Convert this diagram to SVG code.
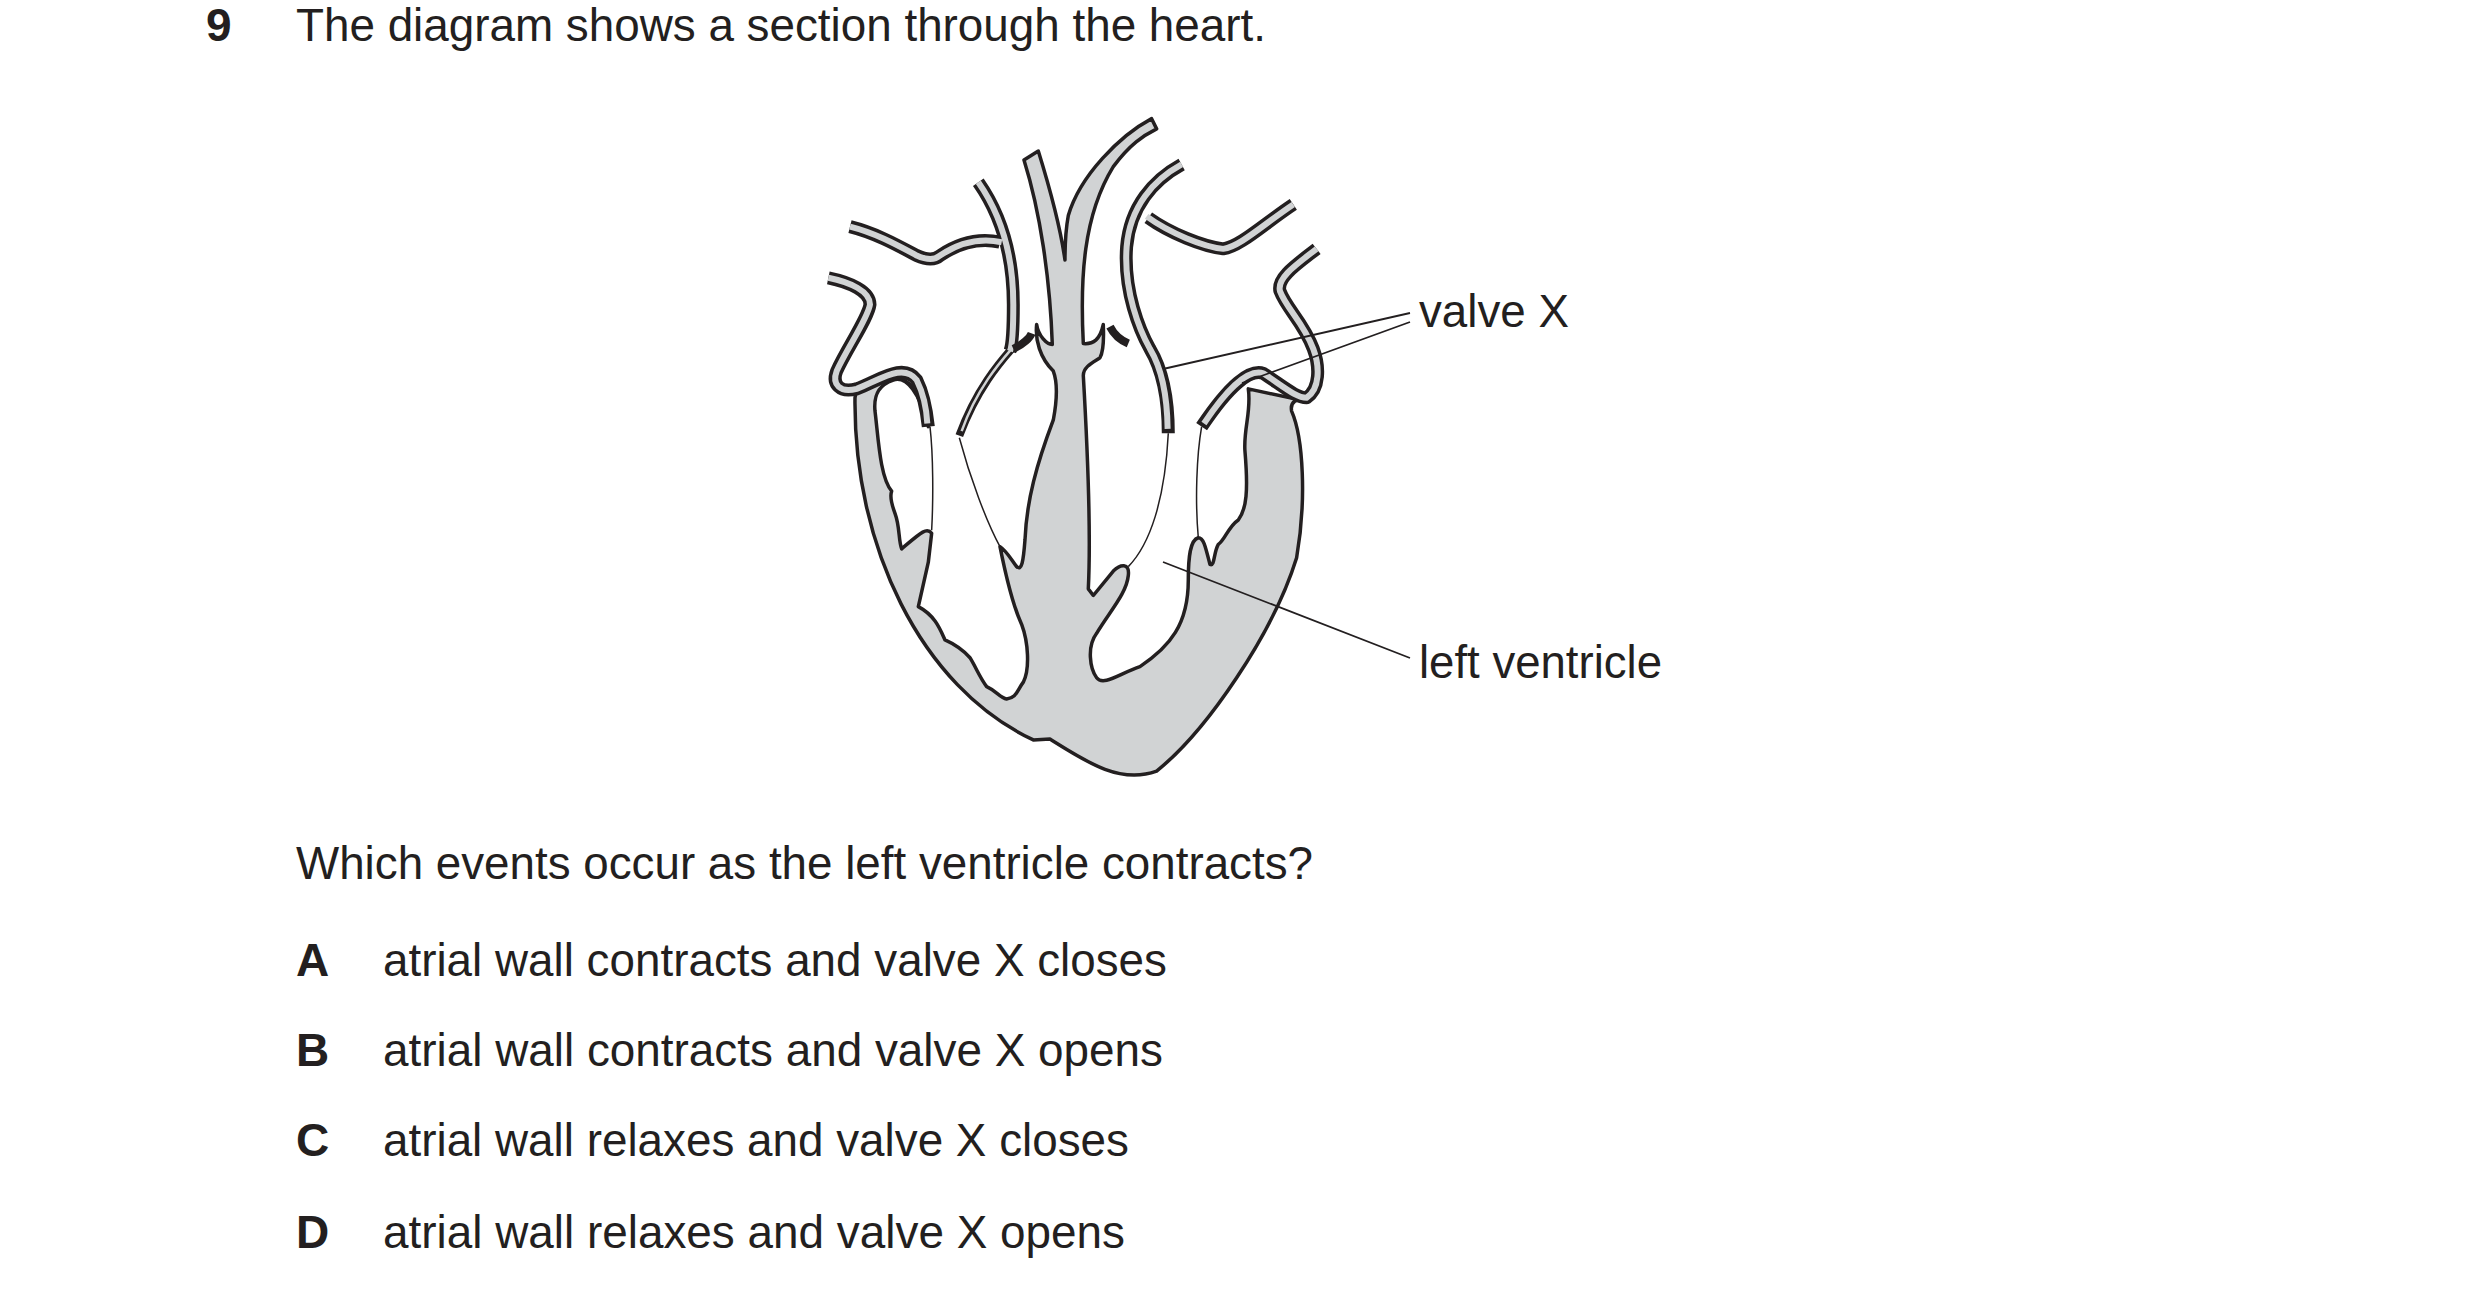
<svg xmlns="http://www.w3.org/2000/svg" width="2480" height="1296" viewBox="0 0 2480 1296">
<style>
text{font-family:"Liberation Sans",Arial,sans-serif;font-size:46px;fill:#231f20}
.b{font-weight:bold}
.body{fill:#d1d3d4;stroke:#231f20;stroke-width:3.5;stroke-linejoin:round}
.to{fill:none;stroke:#231f20;stroke-width:13;vector-effect:non-scaling-stroke;stroke-linejoin:round}
.ti{fill:none;stroke:#d1d3d4;stroke-width:6;vector-effect:non-scaling-stroke;stroke-linejoin:round}
.tto{fill:none;stroke:#231f20;stroke-width:8;vector-effect:non-scaling-stroke}
.tti{fill:none;stroke:#d1d3d4;stroke-width:2.5;vector-effect:non-scaling-stroke}
.cord{fill:none;stroke:#231f20;stroke-width:1.5;vector-effect:non-scaling-stroke}
.lbl{stroke:#231f20;stroke-width:1.8;fill:none}
.s{vector-effect:non-scaling-stroke}
</style>
<text class="b" x="206" y="41">9</text>
<text x="296" y="41" textLength="970" lengthAdjust="spacingAndGlyphs">The diagram shows a section through the heart.</text>
<g id="heart" transform="translate(820,100) scale(0.3333,0.4444)">
<path class="body s" d="M105,670 C100,1000 300,1320 640,1440 L690,1438 C800,1490 900,1540 1010,1510 C1160,1420 1360,1200 1430,1030 C1460,900 1450,760 1415,700 C1410,680 1430,668 1460,678 L1285,650 C1295,700 1270,740 1275,790 C1285,880 1280,920 1255,945 C1225,960 1215,990 1195,1000 C1180,1020 1185,1050 1170,1045 C1155,1000 1150,985 1135,985 C1110,990 1105,1030 1105,1080 C1105,1180 1050,1230 960,1275 C900,1290 850,1320 830,1300 C810,1280 800,1230 830,1200 C870,1150 920,1110 925,1070 C930,1040 900,1045 880,1060 L820,1115 L805,1100 C815,950 800,750 790,620 C790,600 820,590 840,580 C855,560 850,520 850,505 C840,540 820,550 790,548 C780,400 790,260 880,150 C930,100 970,80 1010,65 L995,42 C900,80 780,170 745,260 C735,300 735,330 735,360 C720,280 690,200 655,115 L612,135 C660,250 690,400 697,550 C680,550 655,530 650,505 C645,540 660,580 700,610 C715,640 710,680 700,720 C650,820 620,900 615,990 C610,1040 605,1060 590,1050 C570,1030 560,1015 540,1005 C560,1080 580,1140 605,1180 C625,1220 630,1280 610,1310 C590,1330 590,1345 560,1348 C540,1345 530,1330 500,1320 C480,1300 470,1280 450,1255 C420,1230 390,1220 375,1215 C360,1190 345,1160 295,1140 L325,1040 L335,975 C320,960 300,975 245,1010 C235,990 240,960 225,930 C215,910 210,890 215,880 C180,850 175,760 165,700 C160,660 180,640 220,630 C260,620 300,660 325,735 L310,700 C300,640 230,605 160,625 C130,635 110,645 105,670 Z"/>
<g id="vessels">
<path class="to" d="M25,400 C90,410 150,430 150,460 C145,490 80,560 50,610 C35,640 60,660 110,650 C180,630 250,590 290,630 C310,660 320,700 325,735"/>
<path class="ti" d="M25,400 C90,410 150,430 150,460 C145,490 80,560 50,610 C35,640 60,660 110,650 C180,630 250,590 290,630 C310,660 320,700 322,728"/>
<path class="to" d="M90,285 C170,300 240,330 290,350 C320,360 345,360 360,350 C420,320 480,310 540,320"/>
<path class="to" d="M475,185 C545,260 580,350 580,460 C580,520 575,555 570,565"/>
<path class="tto" d="M575,560 C540,590 470,650 418,755"/>
<path class="ti" d="M90,285 C170,300 240,330 290,350 C320,360 345,360 360,350 C420,320 480,310 545,320"/>
<path class="ti" d="M475,185 C545,260 580,350 580,460 C580,520 575,555 570,565"/>
<path class="tti" d="M575,560 C540,590 470,650 425,745"/>
<path class="tto" d="M580,560 C610,550 630,535 635,525"/>
<path class="to" d="M1085,145 C1000,180 930,240 920,330 C910,430 960,520 990,560 C1030,610 1045,680 1045,750"/>
<path class="to" d="M985,265 C1050,300 1150,330 1210,335 C1260,330 1330,280 1420,235"/>
<path class="ti" d="M1085,145 C1000,180 930,240 920,330 C910,430 960,520 990,560 C1030,610 1042,680 1043,740"/>
<path class="ti" d="M980,262 C1050,300 1150,330 1210,335 C1260,330 1330,280 1420,235"/>
<path class="tto" d="M870,510 C880,525 900,540 925,548"/>
<path class="to" d="M1490,335 C1430,370 1370,400 1380,430 C1400,470 1450,500 1480,560 C1500,600 1500,650 1460,670 C1430,670 1400,650 1330,615 C1290,605 1230,640 1145,735"/>
<path class="ti" d="M1490,335 C1430,370 1370,400 1380,430 C1400,470 1450,500 1480,560 C1500,600 1500,650 1460,670 C1430,670 1400,650 1330,615 C1290,605 1230,640 1152,728"/>
</g>
<path class="cord" d="M330,735 C340,800 340,900 335,968"/>
<path class="cord" d="M418,760 C450,850 500,950 540,1005"/>
<path class="cord" d="M1045,750 C1035,900 990,1000 925,1050"/>
<path class="cord" d="M1145,735 C1130,800 1125,900 1135,985"/>
</g>
<g id="connectors">
<path class="lbl" d="M1410,313 L1163,369 M1410,322 L1242,383 M1410,658 L1163,562"/>
</g>
<text x="1419" y="327" textLength="150" lengthAdjust="spacingAndGlyphs">valve X</text>
<text x="1419" y="678" textLength="243" lengthAdjust="spacingAndGlyphs">left ventricle</text>
<text x="296" y="879" textLength="1017" lengthAdjust="spacingAndGlyphs">Which events occur as the left ventricle contracts?</text>
<text class="b" x="296" y="976">A</text>
<text x="383" y="976" textLength="784" lengthAdjust="spacingAndGlyphs">atrial wall contracts and valve X closes</text>
<text class="b" x="296" y="1066">B</text>
<text x="383" y="1066" textLength="780" lengthAdjust="spacingAndGlyphs">atrial wall contracts and valve X opens</text>
<text class="b" x="296" y="1156">C</text>
<text x="383" y="1156" textLength="746" lengthAdjust="spacingAndGlyphs">atrial wall relaxes and valve X closes</text>
<text class="b" x="296" y="1248">D</text>
<text x="383" y="1248" textLength="742" lengthAdjust="spacingAndGlyphs">atrial wall relaxes and valve X opens</text>
</svg>
